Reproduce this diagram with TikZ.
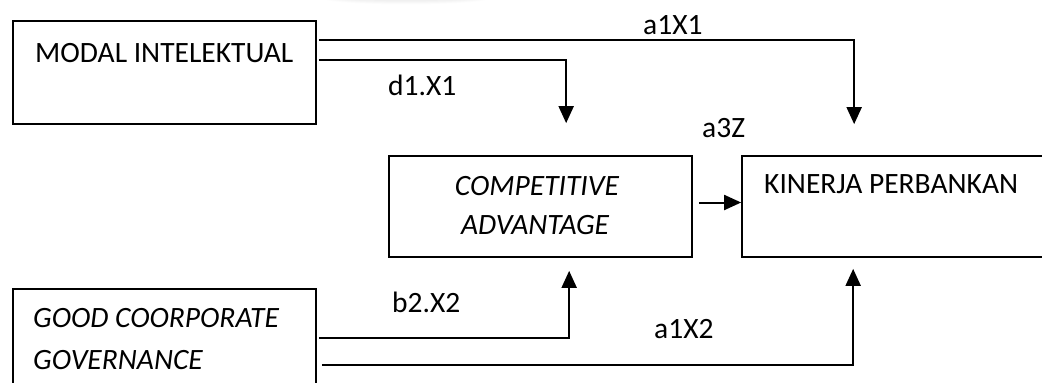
\documentclass[tikz,border=0pt]{standalone}
\usepackage{fontspec}
\setmainfont{Carlito}
\usetikzlibrary{arrows.meta,calc}

\tikzset{
  box/.style={draw=black, line width=1.7pt, rectangle, inner sep=0pt},
  txt/.style={anchor=base west, inner sep=0pt, font=\fontsize{29.5}{35}\selectfont},
  itxt/.style={txt, font=\fontsize{29.5}{35}\selectfont\itshape},
  conn/.style={draw=black, line width=2pt},
  arr/.style={conn, -{Triangle[length=17pt,width=15pt]}},
}

\begin{document}
\begin{tikzpicture}[x=1pt,y=-1pt]
  \useasboundingbox (0,0) rectangle (1042,383);
  \clip (0,0) rectangle (1042,383);

  % soft shadow at the top edge
  \foreach \r in {1,...,6}
    \fill[gray, opacity=0.025] (406,-2) ellipse ({60+4*\r} and {1.5+0.8*\r});

  % boxes
  \node[box, minimum width=303pt, minimum height=103pt] (modal) at (164.5,72.5) {};
  \node[box, minimum width=303pt, minimum height=101pt] (comp)  at (540.5,206.5) {};
  \node[box, minimum width=310pt, minimum height=101pt] (kin)   at (897,206.5) {};
  \node[box, minimum width=303pt, minimum height=110pt] (gcg)   at (164.5,344) {};

  % box texts
  \node[txt] (tmodal) at (35,62) {MODAL INTELEKTUAL};
  \node[itxt, anchor=base] (tcomp1) at (537,195) {COMPETITIVE};
  \node[itxt, anchor=base] (tcomp2) at (535,234) {ADVANTAGE};
  \node[txt] (tkin) at (764,193) {KINERJA PERBANKAN};
  \node[itxt] (tgcg1) at (33,327) {GOOD COORPORATE};
  \node[itxt] (tgcg2) at (33,369) {GOVERNANCE};

  % connector end points
  \coordinate (a1x1s) at ($(modal.north east)+(2,20)$);
  \coordinate (d1x1s) at ($(modal.north east)+(2,40)$);
  \coordinate (b2x2s) at ($(gcg.north east)+(2,50)$);
  \coordinate (a1x2s) at ($(gcg.north east)+(5,77)$);
  \coordinate (a1x1e) at ($(kin.north west)+(113,-31)$);
  \coordinate (d1x1e) at ($(comp.north west)+(178,-32)$);
  \coordinate (b2x2e) at ($(comp.south west)+(181,13)$);
  \coordinate (a1x2e) at ($(kin.south west)+(112,11)$);

  % connectors
  \draw[arr] (a1x1s) -| (a1x1e);
  \draw[arr] (d1x1s) -| (d1x1e);
  \draw[arr] (b2x2s) -| (b2x2e);
  \draw[arr] (a1x2s) -| (a1x2e);
  \draw[arr] ($(comp.east)+(6,-4)$) coordinate (cz) -- (cz -| kin.west);

  % path labels
  \node[txt] (la1x1) at (643,34) {a1X1};
  \node[txt] (ld1x1) at (388,95) {d1.X1};
  \node[txt] (la3z)  at (702,137) {a3Z};
  \node[txt] (lb2x2) at (392,312) {b2.X2};
  \node[txt] (la1x2) at (654,338) {a1X2};
\end{tikzpicture}
\end{document}
